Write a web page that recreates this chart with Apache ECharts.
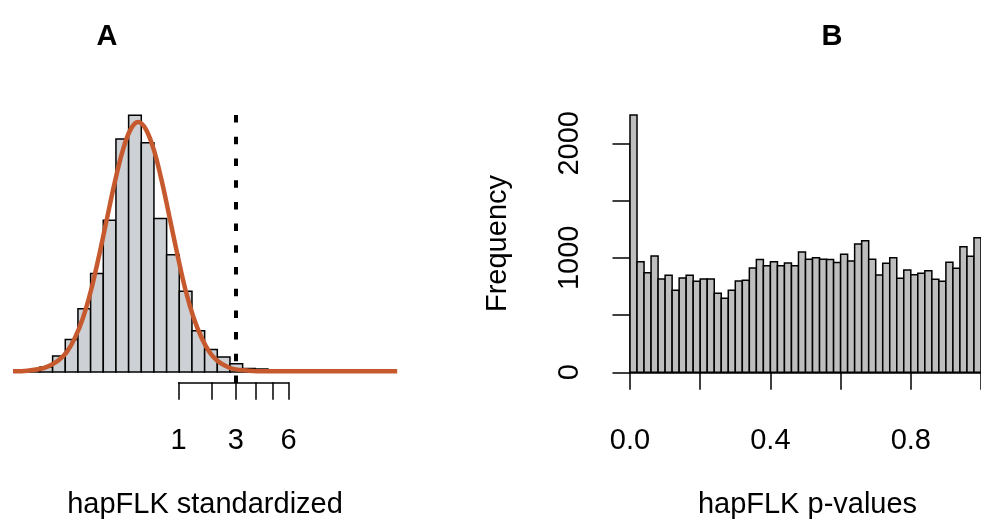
<!DOCTYPE html>
<html>
<head>
<meta charset="utf-8">
<script src="https://cdn.jsdelivr.net/npm/echarts@6/dist/echarts.min.js"></script>
<style>
  html, body { margin: 0; padding: 0; background: #ffffff; }
  #chart { width: 981px; height: 528px; }
</style>
</head>
<body>
<div id="chart"></div>
<script>
// ---- Panel A: standardized hapFLK scores (density histogram + fitted curve) ----
const aBinEdges = [-3.5, -3.1, -2.7, -2.3, -1.9, -1.5, -1.1, -0.7, -0.3, 0.1, 0.5, 0.9, 1.3, 1.7,
                   2.1, 2.5, 2.9, 3.3, 3.7, 4.1, 4.5, 4.9, 5.3, 5.7, 6.1, 6.5, 6.9, 7.3, 7.7, 8.1];
const aDensity = [0.001, 0.008, 0.0255, 0.052, 0.101, 0.157, 0.242, 0.372, 0.41, 0.366, 0.245,
                  0.187, 0.129, 0.066, 0.036, 0.024, 0.013, 0.0055, 0.0048, 0.002, 0.0015, 0.001,
                  0.001, 0.0008, 0.0008, 0.0005, 0.0005, 0.0003, 0.0003];
// fitted density curve
const aCurveX = [-3.95, -3.5, -3.0, -2.75, -2.5, -2.25, -2.0, -1.75, -1.5, -1.25, -1.0, -0.75, -0.5,
                 -0.25, 0, 0.25, 0.5, 0.75, 1.0, 1.25, 1.5, 1.75, 2.0, 2.25, 2.5, 2.75, 3.0, 3.5,
                 4.0, 5.0, 6.0, 7.0, 8.18];
const aCurveY = [0.001, 0.002, 0.006, 0.011, 0.019, 0.032, 0.054, 0.085, 0.128, 0.182, 0.241, 0.300,
                 0.351, 0.386, 0.399, 0.387, 0.354, 0.304, 0.245, 0.185, 0.130, 0.087, 0.055, 0.032,
                 0.018, 0.010, 0.005, 0.002, 0.001, 0.001, 0.001, 0.0012, 0.001];
// axis ticks (z-score positions of -log10 p = 1..6) and their labels
const aTickPos = [1.28, 2.33, 3.09, 3.72, 4.26, 4.75];
const aTickLabels = ['1', '', '3', '', '', '6'];
const aThreshold = 3.09;

// ---- Panel B: hapFLK p-values (frequency histogram) ----
const bBinWidth = 0.02;
const bCounts = [2247, 966, 870, 1016, 815, 847, 716, 824, 847, 795, 815, 815, 690, 646, 716, 798,
                 803, 912, 985, 931, 966, 930, 955, 930, 1050, 987, 1001, 987, 985, 958, 1032, 972,
                 1121, 1150, 987, 850, 952, 1000, 821, 894, 853, 866, 886, 812, 795, 961, 908, 1096,
                 1014, 1176];
const bXTicks = [0, 0.2, 0.4, 0.6, 0.8, 1.0];
const bXLabels = [0, 0.4, 0.8];
const bYTicks = [0, 500, 1000, 1500, 2000];
const bYLabels = [0, 1000, 2000];

const FONT = '"Liberation Sans", Arial, Helvetica, sans-serif';
const INK = '#000000';

const aBars = aDensity.map((v, i) => [aBinEdges[i], aBinEdges[i + 1], v]);
const aCurve = aCurveX.map((x, i) => [x, aCurveY[i]]);
const bBars = bCounts.map((v, i) => [i * bBinWidth, (i + 1) * bBinWidth, v]);

function histRect(fill) {
  return function (params, api) {
    const top = api.coord([api.value(0), api.value(2)]);
    const bot = api.coord([api.value(1), 0]);
    return {
      type: 'rect',
      shape: { x: top[0], y: top[1], width: bot[0] - top[0], height: bot[1] - top[1] },
      style: { fill: fill, stroke: INK, lineWidth: 1.5 }
    };
  };
}

const axisTextStyle = { color: INK, fontSize: 29, fontFamily: FONT };

const option = {
  animation: false,
  backgroundColor: '#ffffff',
  grid: [
    { left: 5.1, top: 112, width: 405.4, height: 271 },      // panel A plot
    { left: 178.6, top: 381.3, width: 109.9, height: 1 },    // panel A axis
    { left: 630, top: 143.3, width: 355, height: 229 }       // panel B plot
  ],
  xAxis: [
    { gridIndex: 0, type: 'value', min: -4.2, max: 8.6, show: false },
    {
      gridIndex: 1, type: 'value', min: aTickPos[0], max: aTickPos[aTickPos.length - 1],
      position: 'bottom',
      axisLine: { show: true, lineStyle: { color: INK, width: 1.5 } },
      axisTick: { show: true, customValues: aTickPos, length: 17.5, lineStyle: { color: INK, width: 1.5 } },
      axisLabel: Object.assign({
        show: true, margin: 44,
        customValues: aTickPos.filter((p, i) => aTickLabels[i] !== ''),
        formatter: v => aTickLabels[aTickPos.indexOf(v)]
      }, axisTextStyle),
      splitLine: { show: false }
    },
    {
      gridIndex: 2, type: 'value', min: 0, max: 1, position: 'bottom', offset: 10.4,
      axisLine: { show: true, lineStyle: { color: INK, width: 1.5 } },
      axisTick: { show: true, customValues: bXTicks, length: 17.5, lineStyle: { color: INK, width: 1.5 } },
      axisLabel: Object.assign({
        show: true, margin: 44, customValues: bXLabels,
        formatter: v => v.toFixed(1)
      }, axisTextStyle),
      splitLine: { show: false }
    }
  ],
  yAxis: [
    { gridIndex: 0, type: 'value', min: -0.0176, max: 0.415, show: false },
    { gridIndex: 1, type: 'value', show: false },
    {
      gridIndex: 2, type: 'value', min: 0, max: 2000, position: 'left', offset: 14.3,
      axisLine: { show: true, lineStyle: { color: INK, width: 1.5 } },
      axisTick: { show: true, customValues: bYTicks, length: 17.5, lineStyle: { color: INK, width: 1.5 } },
      axisLabel: Object.assign({
        show: true, margin: 31, customValues: bYLabels, rotate: 90,
        align: 'center', verticalAlign: 'bottom',
        formatter: v => String(v)
      }, axisTextStyle),
      splitLine: { show: false }
    }
  ],
  series: [
    {
      type: 'custom', xAxisIndex: 0, yAxisIndex: 0, clip: false,
      encode: { x: [0, 1], y: 2 },
      renderItem: histRect('#cdd0d4'),
      data: aBars, z: 2
    },
    {
      type: 'line', xAxisIndex: 0, yAxisIndex: 0,
      data: aCurve, smooth: 0.35, showSymbol: false, clip: false,
      lineStyle: { color: '#c65a2e', width: 4.5 },
      z: 3,
      markLine: {
        silent: true, symbol: 'none',
        label: { show: false },
        lineStyle: { color: INK, width: 4, type: [7.5, 14.2] },
        data: [{ xAxis: aThreshold }]
      }
    },
    {
      type: 'custom', xAxisIndex: 2, yAxisIndex: 2, clip: false,
      encode: { x: [0, 1], y: 2 },
      renderItem: histRect('#bebebe'),
      data: bBars, z: 2
    }
  ],
  graphic: [
    { type: 'text', x: 107, y: 37, style: { text: 'A', fill: INK, font: 'bold 29px ' + FONT, textAlign: 'center', textVerticalAlign: 'middle' } },
    { type: 'text', x: 832, y: 37, style: { text: 'B', fill: INK, font: 'bold 29px ' + FONT, textAlign: 'center', textVerticalAlign: 'middle' } },
    { type: 'text', x: 205, y: 505, style: { text: 'hapFLK standardized', fill: INK, font: '29px ' + FONT, textAlign: 'center', textVerticalAlign: 'middle' } },
    { type: 'text', x: 807.5, y: 505, style: { text: 'hapFLK p-values', fill: INK, font: '29px ' + FONT, textAlign: 'center', textVerticalAlign: 'middle' } },
    { type: 'text', x: 498, y: 243.5, rotation: Math.PI / 2, style: { text: 'Frequency', fill: INK, font: '29px ' + FONT, textAlign: 'center', textVerticalAlign: 'middle' } }
  ]
};

const chart = echarts.init(document.getElementById('chart'), null, { renderer: 'canvas' });
chart.setOption(option);
</script>
</body>
</html>
